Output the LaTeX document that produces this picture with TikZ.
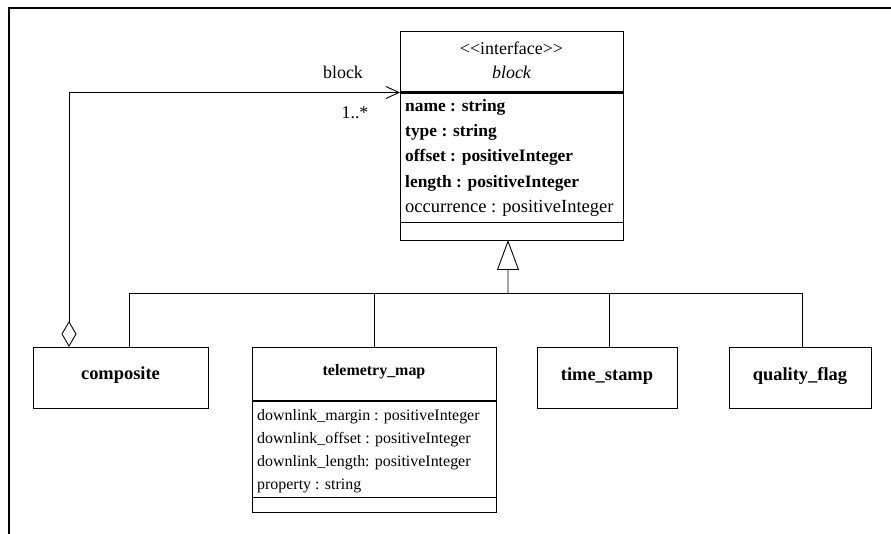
\documentclass[tikz,border=0pt]{standalone}
\usepackage{fontspec}
\setmainfont{Liberation Serif}
\usetikzlibrary{arrows.meta,calc}
\newcommand\fhd{\fontsize{18}{21}\selectfont}
\newcommand\fttl{\fontsize{18.5}{21}\selectfont\bfseries}
\newcommand\fatt{\fontsize{17.5}{20}\selectfont}
\newcommand\fsm{\fontsize{16}{19}\selectfont}
\begin{document}
\begin{tikzpicture}[x=1bp,y=-1bp,
  box/.style={draw,line width=0.9bp,rectangle,inner sep=0pt,outer sep=0pt,anchor=north west},
  sep/.style={line width=2.2bp},
  conn/.style={line width=0.9bp},
  txt/.style={inner sep=0pt,anchor=base},
  attr/.style={inner sep=0pt,anchor=base west,font=\fatt},
  sattr/.style={inner sep=0pt,anchor=base west,font=\fsm},
  frame/.style={line width=2bp}]
\useasboundingbox (0,0) rectangle (891,534);
% outer frame
\draw[frame] (9,534) -- (9,8) -- (891,8);

% interface block
\node[box,minimum width=223bp,minimum height=61.5bp] (bhead) at (400,31) {};
\node[box,minimum width=223bp,minimum height=129.5bp] (battr) at (400,92.5) {};
\node[box,minimum width=223bp,minimum height=18bp] (bops) at (400,222) {};
\draw[sep] (bhead.south west) -- (bhead.south east);
\node[txt,font=\fhd] (bster) at (511.5,55) {<\kern0pt<interface>\kern0pt>};
\node[txt,font=\fhd\itshape] (bname) at (511.5,78.3) {block};
\node[attr,font=\fatt\bfseries] (a1) at (405,111.7) {name : string};
\node[attr,font=\fatt\bfseries] (a2) at (405,136.5) {type : string};
\node[attr,font=\fatt\bfseries] (a3) at (405,162) {offset : positiveInteger};
\node[attr,font=\fatt\bfseries] (a4) at (405,187.5) {length : positiveInteger};
\node[attr,font=\fontsize{18.6}{21}\selectfont] (a5) at (405,213) {occurrence : positiveInteger};

% composite
\node[box,minimum width=175bp,minimum height=61bp] (comp) at (33,347) {};
\node[txt,font=\fttl] (compt) at (120.5,379.5) {composite};

% telemetry_map
\node[box,minimum width=244bp,minimum height=54bp] (thead) at (252,347) {};
\node[box,minimum width=244bp,minimum height=96bp] (tattr) at (252,401) {};
\node[box,minimum width=244bp,minimum height=15bp] (tops) at (252,497) {};
\draw[sep] (thead.south west) -- (thead.south east);
\node[txt,font=\fsm\bfseries] (tname) at (374,375.5) {telemetry\_map};
\node[sattr] (t1) at (257,420) {downlink\_margin : positiveInteger};
\node[sattr] (t2) at (257,443) {downlink\_offset : positiveInteger};
\node[sattr] (t3) at (257,466) {downlink\_length: positiveInteger};
\node[sattr] (t4) at (257,489.3) {property : string};

% time_stamp
\node[box,minimum width=140bp,minimum height=61bp] (tstamp) at (537,347) {};
\node[txt,font=\fttl] (tstampt) at (607,380) {time\_stamp};

% quality_flag
\node[box,minimum width=142bp,minimum height=61bp] (qflag) at (729,347) {};
\node[txt,font=\fttl] (qflagt) at (800,380) {quality\_flag};

% generalization tree
\coordinate (gj) at (508,293);
\draw[conn] ([xshift=8.5bp]comp.north) |- (gj);
\draw[conn] ([xshift=2bp]qflag.north) |- (gj);
\draw[conn] (thead.north) -- (thead.north |- gj);
\draw[conn] ([xshift=2bp]tstamp.north) -- ([xshift=2bp]tstamp.north |- gj);
\draw[conn,-{Triangle[open,length=30bp,width=22bp]}] (gj) -- ([xshift=-3.5bp]bops.south);

% aggregation
\draw[conn,{Diamond[open,length=26bp,width=15bp]}-{Straight Barb[length=13bp,width=12bp]}]
  ([xshift=-51.5bp]comp.north) |- (bhead.south west);
\node[txt,font=\fhd] (rolelbl) at (343,78.3) {block};
\node[txt,font=\fhd] (multlbl) at (355,118.3) {1..*};
\end{tikzpicture}
\end{document}
